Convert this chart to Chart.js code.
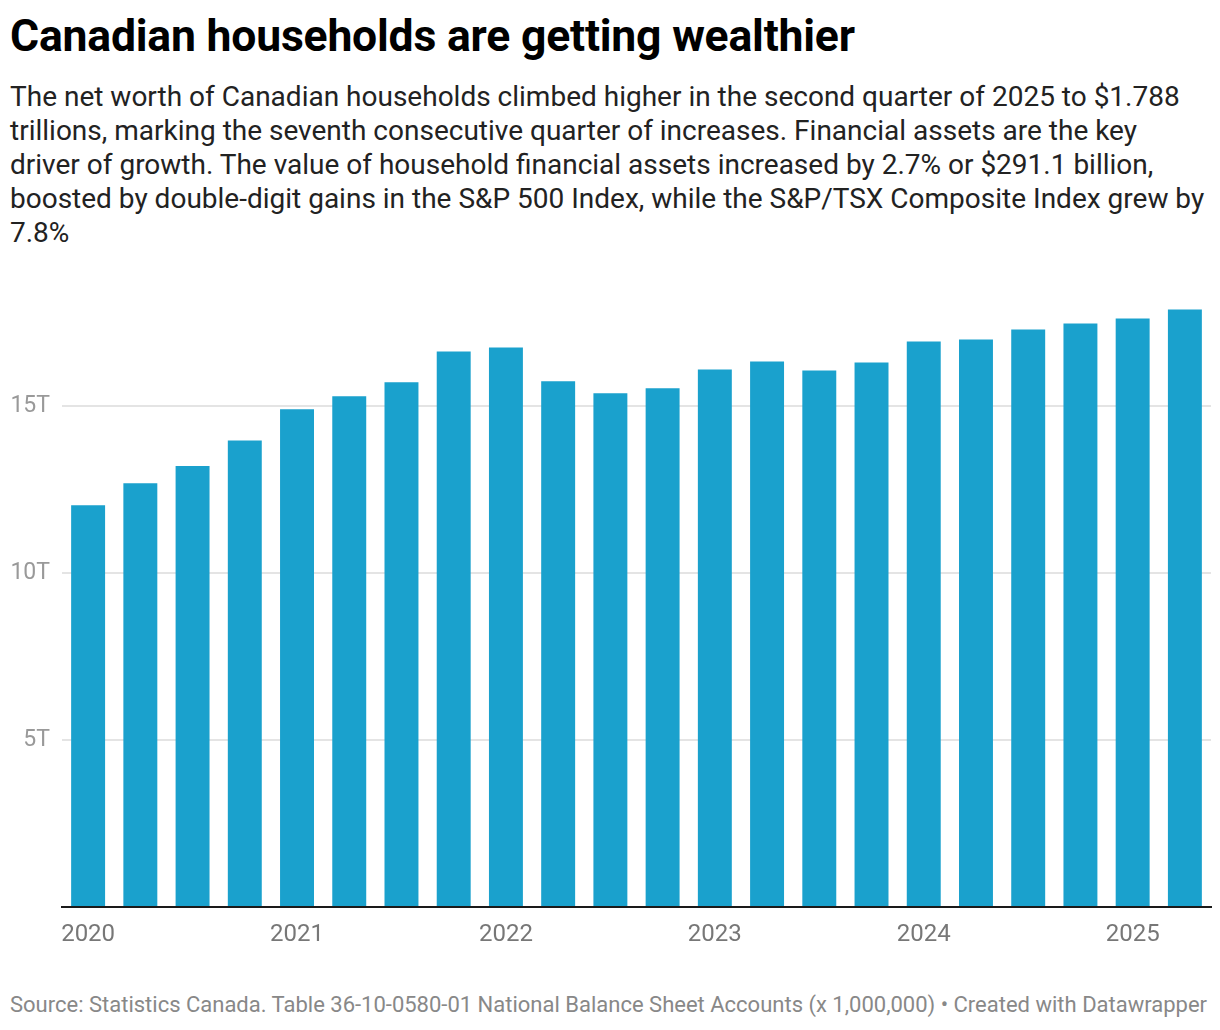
<!DOCTYPE html>
<html>
<head>
<meta charset="utf-8">
<script src="https://cdn.jsdelivr.net/npm/chart.js@4"></script>
<style>
  html, body { margin: 0; padding: 0; background: #fff; }
  body { width: 1220px; height: 1030px; position: relative; font-family: Roboto, "Noto Sans", sans-serif; overflow: hidden; }
  #title { position: absolute; left: 10px; top: 9px; font-size: 44.5px; line-height: 54px; font-weight: 700; color: #000; white-space: nowrap; letter-spacing: -0.2px; }
  #subtitle { position: absolute; left: 10px; top: 80px; font-size: 28px; line-height: 34px; color: #222; white-space: nowrap; }
  #chartBox { position: absolute; left: 0; top: 280px; width: 1220px; height: 690px; }
  #footer { position: absolute; left: 10px; top: 992px; font-size: 22px; color: #888; white-space: nowrap; }
</style>
</head>
<body>
<div id="title">Canadian households are getting wealthier</div>
<div id="subtitle">The net worth of Canadian households climbed higher in the second quarter of 2025 to $1.788<br>trillions, marking the seventh consecutive quarter of increases. Financial assets are the key<br>driver of growth. The value of household financial assets increased by 2.7% or $291.1 billion,<br>boosted by double-digit gains in the S&amp;P 500 Index, while the S&amp;P/TSX Composite Index grew by<br>7.8%</div>
<div id="chartBox"><canvas id="netWorthChart"></canvas></div>
<div id="footer">Source: Statistics Canada. Table 36-10-0580-01 National Balance Sheet Accounts (x 1,000,000) • Created with Datawrapper</div>

<script>
// quarters, 2020 Q1 to 2025 Q2
const quarters = [
    '2020 Q1', '2020 Q2', '2020 Q3', '2020 Q4',
    '2021 Q1', '2021 Q2', '2021 Q3', '2021 Q4',
    '2022 Q1', '2022 Q2', '2022 Q3', '2022 Q4',
    '2023 Q1', '2023 Q2', '2023 Q3', '2023 Q4',
    '2024 Q1', '2024 Q2', '2024 Q3', '2024 Q4',
    '2025 Q1', '2025 Q2'
];

// household net worth, trillions of dollars
const netWorth = [
    12.03, 12.69, 13.20, 13.97,
    14.90, 15.29, 15.71, 16.63,
    16.75, 15.74, 15.38, 15.53,
    16.09, 16.33, 16.06, 16.30,
    16.93, 16.99, 17.29, 17.47,
    17.62, 17.89
];

const yTicks = [0, 5, 10, 15];
const yearLabels = ['2020', '2021', '2022', '2023', '2024', '2025'];

function drawChart() {
    const ctx = document.getElementById('netWorthChart').getContext('2d');
    new Chart(ctx, {
        type: 'bar',
        data: {
            labels: quarters,
            datasets: [{
                label: 'Net worth',
                data: netWorth,
                backgroundColor: '#1aa1cd',
                borderWidth: 0,
                categoryPercentage: 1,
                barPercentage: 0.65
            }]
        },
        options: {
            responsive: true,
            maintainAspectRatio: false,
            animation: false,
            layout: { padding: { top: 24, left: 0, right: 9, bottom: 0 } },
            plugins: {
                legend: { display: false },
                tooltip: { enabled: false }
            },
            scales: {
                x: {
                    grid: { display: false, drawTicks: false },
                    border: { display: true, color: '#1a1a1a', width: 2 },
                    ticks: {
                        autoSkip: false,
                        maxRotation: 0,
                        padding: 14,
                        color: '#777',
                        font: { family: 'Roboto', size: 24 },
                        callback: function(value, index) {
                            return index % 4 === 0 ? yearLabels[index / 4] : '';
                        }
                    },
                    afterFit: function(scale) { scale.height = 63; }
                },
                y: {
                    min: 0,
                    max: 18,
                    afterBuildTicks: function(scale) {
                        scale.ticks = yTicks.map(v => ({ value: v }));
                    },
                    afterFit: function(scale) { scale.width = 62; },
                    grid: { color: '#e4e4e4', lineWidth: 2, drawTicks: false },
                    border: { display: false },
                    ticks: {
                        padding: 12,
                        color: '#999',
                        font: { family: 'Roboto', size: 23 },
                        callback: function(value) {
                            return value === 0 ? '' : value + 'T';
                        }
                    }
                }
            }
        }
    });
}

document.addEventListener('DOMContentLoaded', function() {
    drawChart();
});
</script>
</body>
</html>
